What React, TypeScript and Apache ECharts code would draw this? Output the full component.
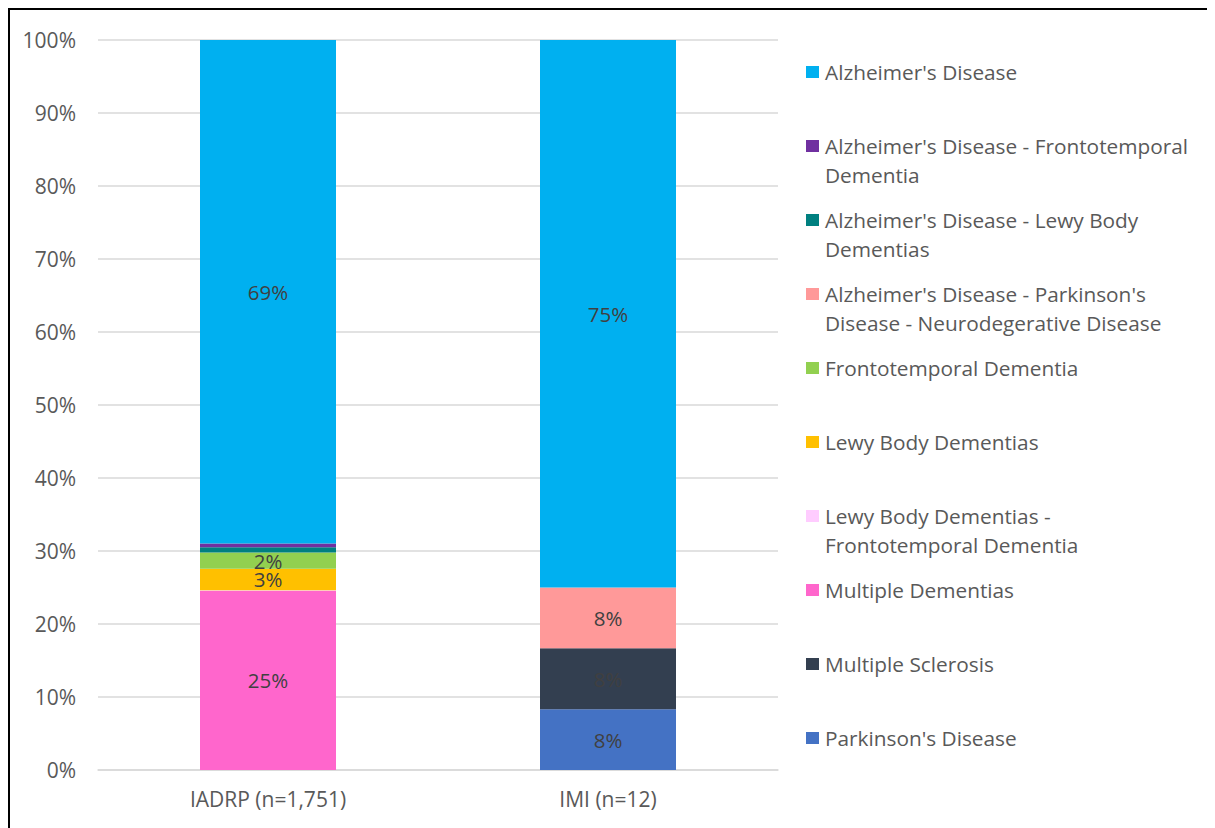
import React, { useEffect, useRef } from "react";
import * as echarts from "echarts";

const categories = ["IADRP (n=1,751)", "IMI (n=12)"];

// stack order: bottom to top
const seriesNames = [
  "Parkinson's Disease",
  "Multiple Sclerosis",
  "Multiple Dementias",
  "Lewy Body Dementias - Frontotemporal Dementia",
  "Lewy Body Dementias",
  "Frontotemporal Dementia",
  "Alzheimer's Disease - Parkinson's Disease - Neurodegerative Disease",
  "Alzheimer's Disease - Lewy Body Dementias",
  "Alzheimer's Disease - Frontotemporal Dementia",
  "Alzheimer's Disease",
];

const seriesColors = [
  "#4472C4",
  "#333F50",
  "#FF66CC",
  "#FFCCFF",
  "#FFC000",
  "#92D050",
  "#FF9999",
  "#008080",
  "#7030A0",
  "#00B0F0",
];

// counts per series: [IADRP, IMI]
const parkinsons = [0, 1];
const multipleSclerosis = [0, 1];
const multipleDementias = [430, 0];
const lbdFtd = [1, 0];
const lewyBody = [52, 0];
const frontotemporal = [39, 0];
const adPdNd = [0, 1];
const adLbd = [12, 0];
const adFtd = [9, 0];
const alzheimers = [1208, 9];

const seriesCounts = [
  parkinsons,
  multipleSclerosis,
  multipleDementias,
  lbdFtd,
  lewyBody,
  frontotemporal,
  adPdNd,
  adLbd,
  adFtd,
  alzheimers,
];

const legendLabels = [
  "Alzheimer's Disease",
  "Alzheimer's Disease - Frontotemporal\nDementia",
  "Alzheimer's Disease - Lewy Body\nDementias",
  "Alzheimer's Disease - Parkinson's\nDisease - Neurodegerative Disease",
  "Frontotemporal Dementia",
  "Lewy Body Dementias",
  "Lewy Body Dementias -\nFrontotemporal Dementia",
  "Multiple Dementias",
  "Multiple Sclerosis",
  "Parkinson's Disease",
];

const yTicks = [0, 10, 20, 30, 40, 50, 60, 70, 80, 90, 100];

const FONT = "'Open Sans', 'Noto Sans', sans-serif";

export default function App() {
  const ref = useRef<HTMLDivElement>(null);

  useEffect(() => {
    if (!ref.current) return;
    const chart = echarts.init(ref.current, null, { renderer: "svg" });

    const totals = categories.map((_, ci) =>
      seriesCounts.reduce((s, arr) => s + arr[ci], 0)
    );

    const series = seriesNames.map((name, si) => ({
      name,
      type: "bar",
      stack: "total",
      barWidth: "40%",
      itemStyle: { color: seriesColors[si] },
      data: seriesCounts[si].map((v, ci) => (v / totals[ci]) * 100),
      label: {
        show: true,
        position: "inside",
        color: "#404040",
        fontFamily: FONT,
        fontSize: 20.5,
        formatter: (p: any) =>
          p.value >= 1.5 ? Math.round(p.value) + "%" : "",
      },
    }));

    const legendGraphics: any[] = [];
    legendLabels.forEach((txt, i) => {
      const cy = 62 + 74 * i;
      const name = legendLabels[i].replace("\n", " ");
      const si = seriesNames.indexOf(name);
      legendGraphics.push({
        type: "rect",
        shape: { x: 796, y: cy - 6, width: 13, height: 12 },
        style: { fill: seriesColors[si] },
      });
      legendGraphics.push({
        type: "text",
        x: 815,
        y: cy - 14.5,
        style: {
          text: txt,
          fill: "#595959",
          font: `20.8px ${FONT}`,
          lineHeight: 29,
          verticalAlign: "top",
          align: "left",
        },
      });
    });

    chart.setOption({
      animation: false,
      textStyle: { fontFamily: FONT },
      grid: { left: 88, top: 30, width: 680, height: 730 },
      xAxis: {
        type: "category",
        data: categories,
        axisLine: { show: true, lineStyle: { color: "#D9D9D9", width: 1.5 } },
        axisTick: { show: false },
        axisLabel: {
          color: "#595959",
          fontSize: 21,
          fontFamily: FONT,
          margin: 18,
        },
      },
      yAxis: {
        type: "value",
        min: yTicks[0],
        max: yTicks[yTicks.length - 1],
        interval: 10,
        axisLine: { show: false },
        axisTick: { show: false },
        splitLine: { lineStyle: { color: "#D9D9D9", width: 1.5 } },
        axisLabel: {
          color: "#595959",
          fontSize: 21,
          fontFamily: FONT,
          margin: 22,
          formatter: "{value}%",
        },
      },
      series,
      graphic: legendGraphics,
    });

    return () => chart.dispose();
  }, []);

  return (
    <div
      style={{
        width: 1207,
        height: 820,
        borderLeft: "2px solid #000",
        borderTop: "2px solid #000",
        boxSizing: "border-box",
        overflow: "hidden",
      }}
    >
      <div ref={ref} style={{ width: 1205, height: 818 }} />
    </div>
  );
}
